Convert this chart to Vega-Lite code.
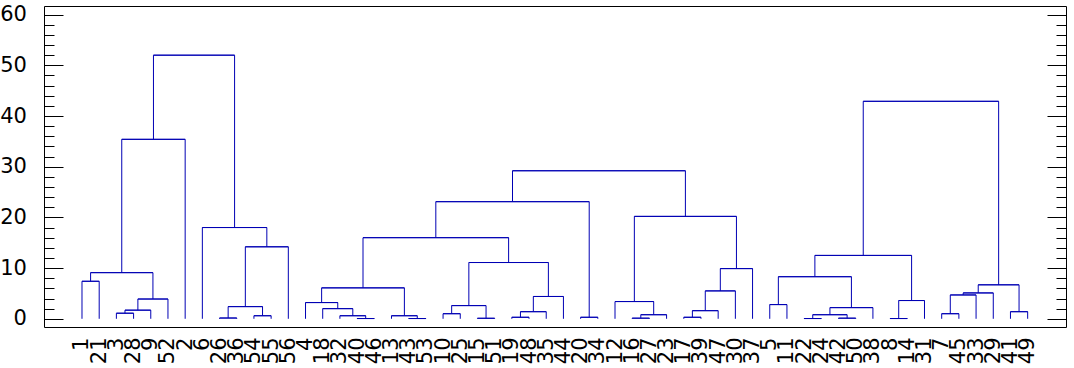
{
  "$schema": "https://vega.github.io/schema/vega-lite/v6.json",
  "width": 1022,
  "height": 321,
  "autosize": {"type": "none"},
  "padding": {"left": 44, "top": 6, "right": 8, "bottom": 41},
  "background": "white",
  "config": {
    "view": {"stroke": "black", "strokeWidth": 1},
    "axis": {"labelColor": "black", "tickColor": "black", "tickWidth": 1, "grid": false, "domain": false, "title": null, "labelOverlap": false, "labelFont": "DejaVu Sans"}
  },
  "data": {"values": [
    {"l": 0, "r": 1, "hl": 0, "hr": 0, "h": 7.4},
    {"l": 2, "r": 3, "hl": 0, "hr": 0, "h": 1.1},
    {"l": 2.5, "r": 4, "hl": 1.1, "hr": 0, "h": 1.7},
    {"l": 3.25, "r": 5, "hl": 1.7, "hr": 0, "h": 3.9},
    {"l": 0.5, "r": 4.125, "hl": 7.4, "hr": 3.9, "h": 9.1},
    {"l": 2.3125, "r": 6, "hl": 9.1, "hr": 0, "h": 35.4},
    {"l": 8, "r": 9, "hl": 0, "hr": 0, "h": 0.15},
    {"l": 10, "r": 11, "hl": 0, "hr": 0, "h": 0.6},
    {"l": 8.5, "r": 10.5, "hl": 0.15, "hr": 0.6, "h": 2.4},
    {"l": 9.5, "r": 12, "hl": 2.4, "hr": 0, "h": 14.2},
    {"l": 7, "r": 10.75, "hl": 0, "hr": 14.2, "h": 18.0},
    {"l": 4.15625, "r": 8.875, "hl": 35.4, "hr": 18.0, "h": 52.0},
    {"l": 16, "r": 17, "hl": 0, "hr": 0, "h": 0.05},
    {"l": 15, "r": 16.5, "hl": 0, "hr": 0.05, "h": 0.6},
    {"l": 14, "r": 15.75, "hl": 0, "hr": 0.6, "h": 2.0},
    {"l": 13, "r": 14.875, "hl": 0, "hr": 2.0, "h": 3.2},
    {"l": 19, "r": 20, "hl": 0, "hr": 0, "h": 0.05},
    {"l": 18, "r": 19.5, "hl": 0, "hr": 0.05, "h": 0.6},
    {"l": 13.9375, "r": 18.75, "hl": 3.2, "hr": 0.6, "h": 6.1},
    {"l": 21, "r": 22, "hl": 0, "hr": 0, "h": 1.0},
    {"l": 23, "r": 24, "hl": 0, "hr": 0, "h": 0.1},
    {"l": 21.5, "r": 23.5, "hl": 1.0, "hr": 0.1, "h": 2.6},
    {"l": 25, "r": 26, "hl": 0, "hr": 0, "h": 0.3},
    {"l": 25.5, "r": 27, "hl": 0.3, "hr": 0, "h": 1.4},
    {"l": 26.25, "r": 28, "hl": 1.4, "hr": 0, "h": 4.4},
    {"l": 22.5, "r": 27.125, "hl": 2.6, "hr": 4.4, "h": 11.1},
    {"l": 16.34375, "r": 24.8125, "hl": 6.1, "hr": 11.1, "h": 16.0},
    {"l": 29, "r": 30, "hl": 0, "hr": 0, "h": 0.3},
    {"l": 20.578125, "r": 29.5, "hl": 16.0, "hr": 0.3, "h": 23.1},
    {"l": 32, "r": 33, "hl": 0, "hr": 0, "h": 0.12},
    {"l": 32.5, "r": 34, "hl": 0.12, "hr": 0, "h": 0.8},
    {"l": 31, "r": 33.25, "hl": 0, "hr": 0.8, "h": 3.4},
    {"l": 35, "r": 36, "hl": 0, "hr": 0, "h": 0.3},
    {"l": 35.5, "r": 37, "hl": 0.3, "hr": 0, "h": 1.6},
    {"l": 36.25, "r": 38, "hl": 1.6, "hr": 0, "h": 5.5},
    {"l": 37.125, "r": 39, "hl": 5.5, "hr": 0, "h": 9.9},
    {"l": 32.125, "r": 38.0625, "hl": 3.4, "hr": 9.9, "h": 20.2},
    {"l": 25.0390625, "r": 35.09375, "hl": 23.1, "hr": 20.2, "h": 29.2},
    {"l": 40, "r": 41, "hl": 0, "hr": 0, "h": 2.8},
    {"l": 42, "r": 43, "hl": 0, "hr": 0, "h": 0.05},
    {"l": 44, "r": 45, "hl": 0, "hr": 0, "h": 0.12},
    {"l": 42.5, "r": 44.5, "hl": 0.05, "hr": 0.12, "h": 0.8},
    {"l": 43.5, "r": 46, "hl": 0.8, "hr": 0, "h": 2.2},
    {"l": 40.5, "r": 44.75, "hl": 2.8, "hr": 2.2, "h": 8.3},
    {"l": 47, "r": 48, "hl": 0, "hr": 0, "h": 0.05},
    {"l": 47.5, "r": 49, "hl": 0.05, "hr": 0, "h": 3.6},
    {"l": 42.625, "r": 48.25, "hl": 8.3, "hr": 3.6, "h": 12.5},
    {"l": 50, "r": 51, "hl": 0, "hr": 0, "h": 1.0},
    {"l": 50.5, "r": 52, "hl": 1.0, "hr": 0, "h": 4.7},
    {"l": 51.25, "r": 53, "hl": 4.7, "hr": 0, "h": 5.1},
    {"l": 54, "r": 55, "hl": 0, "hr": 0, "h": 1.4},
    {"l": 52.125, "r": 54.5, "hl": 5.1, "hr": 1.4, "h": 6.7},
    {"l": 45.4375, "r": 53.3125, "hl": 12.5, "hr": 6.7, "h": 42.9}
  ]},
  "layer": [
    {
      "mark": {"type": "rule", "color": "#0000b4", "strokeWidth": 1},
      "encoding": {
        "x": {"field": "l", "type": "quantitative",
          "scale": {"domain": [-2.21, 57.23], "nice": false, "zero": false},
          "axis": {"values": [0,1,2,3,4,5,6,7,8,9,10,11,12,13,14,15,16,17,18,19,20,21,22,23,24,25,26,27,28,29,30,31,32,33,34,35,36,37,38,39,40,41,42,43,44,45,46,47,48,49,50,51,52,53,54,55],
            "labelExpr": "['1','21','3','28','9','52','2','6','26','36','54','55','56','4','18','32','40','46','13','43','53','10','25','15','51','19','48','35','44','20','34','12','16','27','23','17','39','47','30','37','5','11','22','24','42','50','38','8','14','31','7','45','33','29','41','49'][datum.value]",
            "labelAngle": 270, "labelFont": "DejaVu Sans", "labelFontSize": 21, "ticks": false, "tickSize": 0, "labelPadding": 10, "labelOverlap": false, "labelFlush": false, "labelBound": false, "title": null}},
        "x2": {"field": "r"},
        "y": {"field": "h", "type": "quantitative",
          "scale": {"domain": [-1.62, 61.7], "nice": false, "zero": false},
          "axis": {"orient": "left", "values": [0,10,20,30,40,50,60], "tickSize": -19, "labelPadding": 36.6, "labelFont": "DejaVu Sans", "labelFontSize": 21, "title": null}}
      }
    },
    {
      "mark": {"type": "rule", "color": "#0000b4", "strokeWidth": 1},
      "encoding": {
        "x": {"field": "l", "type": "quantitative",
          "axis": {"values": [0,1,2,3,4,5,6,7,8,9,10,11,12,13,14,15,16,17,18,19,20,21,22,23,24,25,26,27,28,29,30,31,32,33,34,35,36,37,38,39,40,41,42,43,44,45,46,47,48,49,50,51,52,53,54,55],
            "labelExpr": "['1','21','3','28','9','52','2','6','26','36','54','55','56','4','18','32','40','46','13','43','53','10','25','15','51','19','48','35','44','20','34','12','16','27','23','17','39','47','30','37','5','11','22','24','42','50','38','8','14','31','7','45','33','29','41','49'][datum.value]",
            "labelAngle": 270, "labelFont": "DejaVu Sans", "labelFontSize": 21, "ticks": false, "tickSize": 0, "labelPadding": 10, "labelOverlap": false, "labelFlush": false, "labelBound": false, "title": null}},
        "y": {"field": "hl", "type": "quantitative",
          "axis": {"orient": "left", "values": [2,4,6,8,12,14,16,18,22,24,26,28,32,34,36,38,42,44,46,48,52,54,56,58], "tickSize": -10, "labels": false, "title": null}},
        "y2": {"field": "h"}
      }
    },
    {
      "mark": {"type": "rule", "color": "#0000b4", "strokeWidth": 1},
      "encoding": {
        "x": {"field": "r", "type": "quantitative",
          "axis": {"values": [0,1,2,3,4,5,6,7,8,9,10,11,12,13,14,15,16,17,18,19,20,21,22,23,24,25,26,27,28,29,30,31,32,33,34,35,36,37,38,39,40,41,42,43,44,45,46,47,48,49,50,51,52,53,54,55],
            "labelExpr": "['1','21','3','28','9','52','2','6','26','36','54','55','56','4','18','32','40','46','13','43','53','10','25','15','51','19','48','35','44','20','34','12','16','27','23','17','39','47','30','37','5','11','22','24','42','50','38','8','14','31','7','45','33','29','41','49'][datum.value]",
            "labelAngle": 270, "labelFont": "DejaVu Sans", "labelFontSize": 21, "ticks": false, "tickSize": 0, "labelPadding": 10, "labelOverlap": false, "labelFlush": false, "labelBound": false, "title": null}},
        "y": {"field": "hr", "type": "quantitative",
          "axis": {"orient": "right", "values": [0,10,20,30,40,50,60], "tickSize": -19, "labels": false, "title": null}},
        "y2": {"field": "h"}
      }
    },
    {
      "mark": {"type": "rule", "color": "#0000b4", "strokeWidth": 1},
      "encoding": {
        "x": {"field": "l", "type": "quantitative",
          "axis": {"values": [0,1,2,3,4,5,6,7,8,9,10,11,12,13,14,15,16,17,18,19,20,21,22,23,24,25,26,27,28,29,30,31,32,33,34,35,36,37,38,39,40,41,42,43,44,45,46,47,48,49,50,51,52,53,54,55],
            "labelExpr": "['1','21','3','28','9','52','2','6','26','36','54','55','56','4','18','32','40','46','13','43','53','10','25','15','51','19','48','35','44','20','34','12','16','27','23','17','39','47','30','37','5','11','22','24','42','50','38','8','14','31','7','45','33','29','41','49'][datum.value]",
            "labelAngle": 270, "labelFont": "DejaVu Sans", "labelFontSize": 21, "ticks": false, "tickSize": 0, "labelPadding": 10, "labelOverlap": false, "labelFlush": false, "labelBound": false, "title": null}},
        "x2": {"field": "r"},
        "y": {"field": "h", "type": "quantitative",
          "axis": {"orient": "right", "values": [2,4,6,8,12,14,16,18,22,24,26,28,32,34,36,38,42,44,46,48,52,54,56,58], "tickSize": -10, "labels": false, "title": null}}
      }
    }
  ],
  "resolve": {"axis": {"y": "independent"}}
}
